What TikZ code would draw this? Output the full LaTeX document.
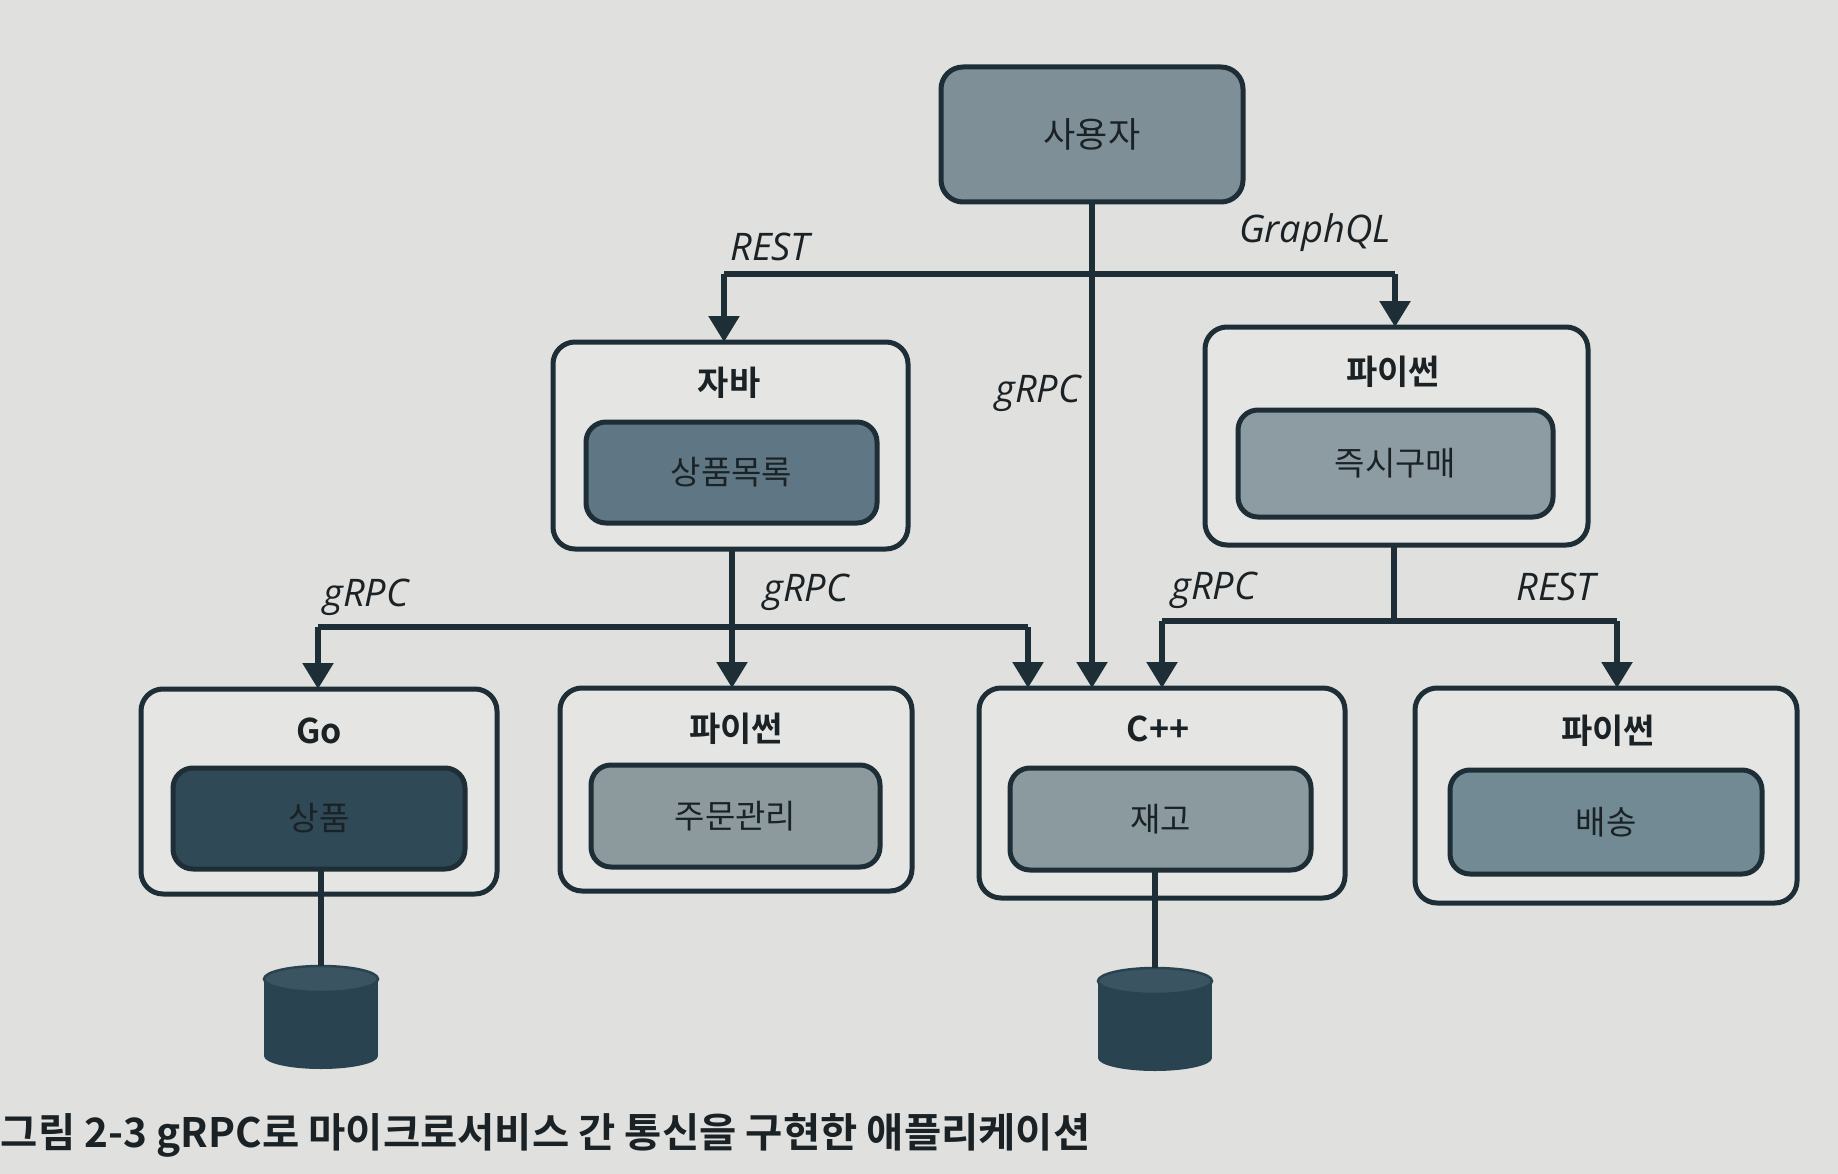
\documentclass[tikz,border=0pt]{standalone}
\usepackage{fontspec}
\setmainfont{Noto Sans CJK KR}[BoldFont={Noto Sans CJK KR Bold}]
\newfontfamily\labfont{Open Sans}
\usetikzlibrary{arrows.meta}
\definecolor{paper}{HTML}{E0E0DE}
\definecolor{boxbg}{HTML}{E5E5E3}
\definecolor{edge}{HTML}{1E2E36}
\definecolor{ink}{HTML}{1A2226}
\definecolor{cUser}{HTML}{7E8F97}
\definecolor{cList}{HTML}{5F7784}
\definecolor{cBuy}{HTML}{8D9CA2}
\definecolor{cProd}{HTML}{2F4956}
\definecolor{cOrder}{HTML}{8C999D}
\definecolor{cStock}{HTML}{8B9A9F}
\definecolor{cShip}{HTML}{718A93}
\definecolor{cDb}{HTML}{2A4350}
\definecolor{cDbTop}{HTML}{3A5561}
\begin{document}
\begin{tikzpicture}[x=1pt,y=-1pt,
  every node/.style={inner sep=0pt, outer sep=0pt},
  outerbox/.style={draw=edge, fill=boxbg, rounded corners=22pt, line width=5pt, rectangle},
  innerbox/.style={draw=edge, rounded corners=20pt, line width=5pt, rectangle,
     font=\fontsize{33}{40}\selectfont, text=ink},
  ttl/.style={font=\fontsize{34}{40}\selectfont\bfseries, text=ink},
  lbl/.style={font=\labfont\itshape\fontsize{38}{44}\selectfont, text=ink},
  conn/.style={draw=edge, line width=5.5pt},
  arr/.style={conn, -{Triangle[width=30pt,length=26pt]}},
  caption/.style={font=\fontsize{40.5}{46}\selectfont\bfseries, text=ink}
]
\useasboundingbox (0,0) rectangle (1838,1174);
\fill[paper] (0,0) rectangle (1838,1174);

% user
\node[innerbox, fill=cUser, rounded corners=22pt, minimum width=302pt, minimum height=135pt,
      font=\fontsize{35}{40}\selectfont] (user) at (1092,134.5) {사용자};

% Java
\node[outerbox, minimum width=355pt, minimum height=207pt] (java) at (730.5,445.5) {};
\node[ttl] (javat) at (729,383) {자바};
\node[innerbox, fill=cList, minimum width=291pt, minimum height=101pt] (list) at (731.5,472.5) {상품목록};

% Python top right
\node[outerbox, minimum width=383pt, minimum height=218pt] (pytr) at (1396.5,436) {};
\node[ttl] (pytrt) at (1393,372) {파이썬};
\node[innerbox, fill=cBuy, minimum width=315pt, minimum height=107pt] (buy) at (1395.5,463.5) {즉시구매};

% Go
\node[outerbox, minimum width=356pt, minimum height=205pt] (go) at (319,791.5) {};
\node[ttl] (got) at (319,731) {Go};
\node[innerbox, fill=cProd, minimum width=292pt, minimum height=101pt] (prod) at (319,818.5) {상품};

% Python middle
\node[outerbox, minimum width=352pt, minimum height=203pt] (pym) at (736,789.5) {};
\node[ttl] (pymt) at (736,729) {파이썬};
\node[innerbox, fill=cOrder, minimum width=289pt, minimum height=102pt] (order) at (735.5,816) {주문관리};

% C++
\node[outerbox, minimum width=366pt, minimum height=210pt] (cpp) at (1162,793) {};
\node[ttl] (cppt) at (1158,729) {C++};
\node[innerbox, fill=cStock, minimum width=301pt, minimum height=102pt] (stock) at (1160.5,819) {재고};

% Python right
\node[outerbox, minimum width=382pt, minimum height=215pt] (pyr) at (1606,795.5) {};
\node[ttl] (pyrt) at (1608,731) {파이썬};
\node[innerbox, fill=cShip, minimum width=312pt, minimum height=104pt] (ship) at (1606,822) {배송};

% databases
\foreach \cx/\t/\b/\nm in {321/966/1069/dba, 1155/968/1071/dbb}{
  \fill[cDb] (\cx-57,\t+13) rectangle (\cx+57,\b-13);
  \fill[cDb] (\cx,\b-13) ellipse [x radius=57pt, y radius=13pt];
  \filldraw[fill=cDbTop, draw=cDb, line width=2.5pt] (\cx,\t+13) ellipse [x radius=57pt, y radius=13pt];
  \coordinate (\nm) at (\cx,\t);
}
\draw[conn] (dba |- prod.south) -- (dba);
\draw[conn] (dbb |- stock.south) -- (dbb);

% connectors from user
\coordinate (ta) at (724,274);
\coordinate (tb) at (1395,274);
\draw[conn] (ta) -- (tb);
\draw[arr] (ta) -- (ta |- java.north);
\draw[arr] (tb) -- (tb |- pytr.north);
\draw[arr] (user.south) -- (user.south |- cpp.north);

% connectors from Java
\coordinate (ja) at (318,627);
\coordinate (jm) at (732,627);
\coordinate (jb) at (1028,627);
\draw[conn] (java.south -| jm) -- (jm);
\draw[conn] (ja) -- (jb);
\draw[arr] (ja) -- (ja |- go.north);
\draw[arr] (jm) -- (jm |- pym.north);
\draw[arr] (jb) -- (jb |- cpp.north);

% connectors from Python top right
\coordinate (pa) at (1162,621);
\coordinate (pm) at (1394,621);
\coordinate (pb) at (1617,621);
\draw[conn] (pytr.south -| pm) -- (pm);
\draw[conn] (pa) -- (pb);
\draw[arr] (pa) -- (pa |- cpp.north);
\draw[arr] (pb) -- (pb |- pyr.north);

% labels
\node[lbl] (l1) at (770,247) {REST};
\node[lbl] (l2) at (1315,233) {GraphQL};
\node[lbl] (l3) at (1038,393) {gRPC};
\node[lbl] (l4) at (366,597) {gRPC};
\node[lbl] (l5) at (806,592) {gRPC};
\node[lbl] (l6) at (1214,590) {gRPC};
\node[lbl] (l7) at (1556,587) {REST};

% caption
\node[caption, anchor=west] (cap) at (1,1135) {그림 2-3 gRPC로 마이크로서비스 간 통신을 구현한 애플리케이션};
\end{tikzpicture}
\end{document}
